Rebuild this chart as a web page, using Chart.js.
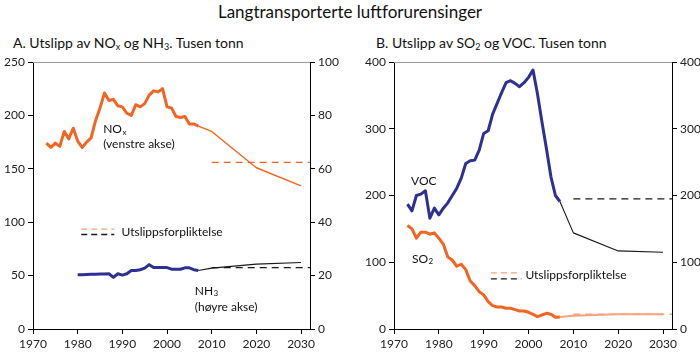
<!DOCTYPE html>
<html><head><meta charset="utf-8">
<script src="https://cdn.jsdelivr.net/npm/chart.js@4/dist/chart.umd.min.js"></script>
<style>
html,body{margin:0;padding:0;background:#fff;width:700px;height:360px;overflow:hidden;font-family:Lato,"Open Sans",sans-serif;color:#111}
#title{position:absolute;left:0;width:700px;top:1px;text-align:center;font-size:17px}
.sub{position:absolute;top:34px;font-size:14px}
.sub sub{font-size:9px;vertical-align:-2px}
.box{position:absolute;top:50px;width:350px;height:310px}
</style></head><body>
<div id="title">Langtransporterte luftforurensinger</div>
<div class="sub" style="left:13px">A. Utslipp av NO<sub>x</sub> og NH<sub>3</sub>. Tusen tonn</div>
<div class="sub" style="left:376px">B. Utslipp av SO<sub>2</sub> og VOC. Tusen tonn</div>
<div class="box" style="left:0"><canvas id="c1"></canvas></div>
<div class="box" style="left:350px"><canvas id="c2"></canvas></div>
<script>
// ---- Data (thousand tonnes) ----
const histYears = [1973,1974,1975,1976,1977,1978,1979,1980,1981,1982,1983,1984,1985,1986,1987,1988,1989,1990,1991,1992,1993,1994,1995,1996,1997,1998,1999,2000,2001,2002,2003,2004,2005,2006,2007];
const noxHist = [174,170,174,171,185,178,188,176,170,175,179,195,207,221,214,215,209,208,202,200,210,208,211,219,223,222,225,208,207,199,198,199,192,192,190];
const nh3Years = [1980,1981,1982,1983,1984,1985,1986,1987,1988,1989,1990,1991,1992,1993,1994,1995,1996,1997,1998,1999,2000,2001,2002,2003,2004,2005,2006,2007];
const nh3Hist = [20.3,20.3,20.4,20.5,20.5,20.6,20.6,20.7,19.3,20.7,20.2,20.7,21.9,21.9,22.2,22.8,24.1,23.0,23.0,23.0,23.0,22.4,22.4,22.4,22.9,22.9,22.2,21.9];
const vocHist = [187,177,200,202,207,166,181,171,181,189,200,211,226,248,252,253,268,293,297,322,338,354,369,372,368,363,369,377,388,352,310,270,228,200,191];
const so2Hist = [155,150,136,145,145,142,144,136,127,108,103,94,97,89,72,65,56,51,41,35,33,33,31,31,29,27,27,25,22,18.5,21,23.5,22,17.5,18];
const projYears = [2007,2010,2020,2030];
const noxProj = [190,185,151,134];
const nh3Proj = [21.9,22.8,24.3,24.9];
const vocProj = [191,144,117,115];
const so2Proj = [18,20,22,22];
const commitYears = [2010,2032];
const noxCommit = 156, nh3Commit = 23, vocCommit = 195, so2Commit = 22;
const xTicks = [1970,1980,1990,2000,2010,2020,2030];
const leftTicksA = [0,50,100,150,200,250];
const rightTicksA = [0,20,40,60,80,100];
const ticksB = [0,100,200,300,400];

const ORANGE = '#F26522', SALMON = '#F6A57A', NAVY = '#2E3192', BLACK = '#1a1a1a';
const FONT = 'Lato, "Open Sans", sans-serif';
Chart.defaults.font.family = FONT;
Chart.defaults.color = '#222';

const pts = (xs, ys) => xs.map((x,i)=>({x, y: ys[i]}));
const flat = (xs, v) => xs.map(x=>({x, y:v}));
const line = (data, color, width, axis, dash) => ({data, borderColor: color, borderWidth: width, yAxisID: axis, pointRadius: 0, fill:false, tension:0, borderDash: dash || [], borderJoinStyle:'round', borderCapStyle:'butt'});

function xAxis(){
  return {type:'linear', min:1970, max:2032,
    afterBuildTicks: s => { s.ticks = xTicks.map(v=>({value:v})); },
    afterFit: s => { s.height = 31; },
    ticks:{callback: v => String(v), font:{size:12}, padding:3, maxRotation:0, color:'#222'},
    grid:{drawOnChartArea:false, drawTicks:true, tickLength:5, color:'#000'},
    border:{color:'#000', width:1}};
}
function yAxis(pos, max, ticks, width){
  return {type:'linear', position:pos, min:0, max:max,
    afterBuildTicks: s => { s.ticks = ticks.map(v=>({value:v})); },
    afterFit: s => { s.width = width; },
    ticks:{callback: v => String(v), font:{size:12}, padding:3, color:'#222'},
    grid:{drawOnChartArea:false, drawTicks:true, tickLength:5, color:'#000'},
    border:{color:'#000', width:1}};
}

// Helper: draw text with subscript part
function subText(ctx, x, y, main, sub){
  ctx.font = '12px ' + FONT;
  ctx.textBaseline = 'middle';
  ctx.textAlign = 'left';
  ctx.fillText(main, x, y);
  const w = ctx.measureText(main).width;
  ctx.font = '8px ' + FONT;
  ctx.fillText(sub, x + w + 0.5, y + 3);
  ctx.font = '12px ' + FONT;
}

const frame = {id:'frame', afterDraw(c){
  const {ctx, chartArea:a} = c;
  ctx.save(); ctx.strokeStyle = '#9a9a9a'; ctx.lineWidth = 1;
  ctx.beginPath(); ctx.moveTo(a.left, a.top + 0.5); ctx.lineTo(a.right, a.top + 0.5); ctx.stroke();
  ctx.restore();
}};

function legendAt(ctx, xs, yTop, yBot, xText, yText, sc){
  const x0 = sc.x.getPixelForValue(xs[0]), x1 = sc.x.getPixelForValue(xs[1]);
  ctx.save(); ctx.lineWidth = 1.3; ctx.setLineDash([6,4]);
  ctx.strokeStyle = SALMON; ctx.beginPath(); ctx.moveTo(x0, sc.y.getPixelForValue(yTop)); ctx.lineTo(x1, sc.y.getPixelForValue(yTop)); ctx.stroke();
  ctx.strokeStyle = BLACK; ctx.beginPath(); ctx.moveTo(x0, sc.y.getPixelForValue(yBot)); ctx.lineTo(x1, sc.y.getPixelForValue(yBot)); ctx.stroke();
  ctx.setLineDash([]);
  ctx.fillStyle = '#111'; ctx.font = '12px ' + FONT; ctx.textBaseline='middle'; ctx.textAlign='left';
  ctx.fillText('Utslippsforpliktelse', sc.x.getPixelForValue(xText), sc.y.getPixelForValue(yText));
  ctx.restore();
}

const labelsA = {id:'labelsA', afterDraw(c){
  const {ctx} = c; const X = c.scales.x, Y = c.scales.y, Y2 = c.scales.y2;
  ctx.save(); ctx.fillStyle = '#111';
  subText(ctx, X.getPixelForValue(1985.7), Y.getPixelForValue(187), 'NO', 'x');
  ctx.fillText('(venstre akse)', X.getPixelForValue(1985.7), Y.getPixelForValue(173));
  subText(ctx, X.getPixelForValue(2006.2), Y2.getPixelForValue(14.3), 'NH', '3');
  ctx.fillText('(høyre akse)', X.getPixelForValue(2006.2), Y2.getPixelForValue(8.3));
  ctx.restore();
  legendAt(ctx, [1980.8, 1988.2], 93.5, 88.5, 1989.8, 91, {x:X, y:Y});
}};

const labelsB = {id:'labelsB', afterDraw(c){
  const {ctx} = c; const X = c.scales.x, Y = c.scales.y;
  ctx.save(); ctx.fillStyle = '#111';
  ctx.font = '12px ' + FONT; ctx.textBaseline='middle'; ctx.textAlign='left';
  ctx.fillText('VOC', X.getPixelForValue(1973.8), Y.getPixelForValue(221));
  subText(ctx, X.getPixelForValue(1974), Y.getPixelForValue(105), 'SO', '2');
  ctx.restore();
  legendAt(ctx, [1991.6, 1998.4], 84, 75, 1999.3, 80, {x:X, y:Y});
}};

const common = {responsive:true, maintainAspectRatio:false, animation:false,
  plugins:{legend:{display:false}, tooltip:{enabled:false}},
  layout:{padding:{top:12, left:0, right:0, bottom:0}}};

new Chart(document.getElementById('c1'), {
  type:'line',
  data:{datasets:[
    line(flat(commitYears, noxCommit), ORANGE, 1.3, 'y', [7,5]),
    line(pts(projYears, noxProj), ORANGE, 1.4, 'y'),
    line(pts(histYears, noxHist), ORANGE, 3, 'y'),
    line(flat(commitYears, nh3Commit), BLACK, 1.1, 'y2', [7,5]),
    line(pts(projYears, nh3Proj), BLACK, 1.1, 'y2'),
    line(pts(nh3Years, nh3Hist), NAVY, 3, 'y2')
  ]},
  options:Object.assign({}, common, {scales:{
    x: xAxis(),
    y: yAxis('left', 250, leftTicksA, 33),
    y2: yAxis('right', 100, rightTicksA, 40)
  }}),
  plugins:[frame, labelsA]
});

new Chart(document.getElementById('c2'), {
  type:'line',
  data:{datasets:[
    line(flat(commitYears, vocCommit), BLACK, 1.1, 'y', [7,5]),
    line(pts(projYears, vocProj), BLACK, 1.1, 'y'),
    line(pts(histYears, vocHist), NAVY, 3, 'y'),
    line(flat(commitYears, so2Commit), SALMON, 1.5, 'y', [7,5]),
    line(pts(projYears, so2Proj), SALMON, 2, 'y'),
    line(pts(histYears, so2Hist), ORANGE, 3, 'y')
  ]},
  options:Object.assign({}, common, {scales:{
    x: xAxis(),
    y: yAxis('left', 400, ticksB, 44),
    y2: yAxis('right', 400, ticksB, 28)
  }}),
  plugins:[frame, labelsB]
});
</script>
</body></html>
